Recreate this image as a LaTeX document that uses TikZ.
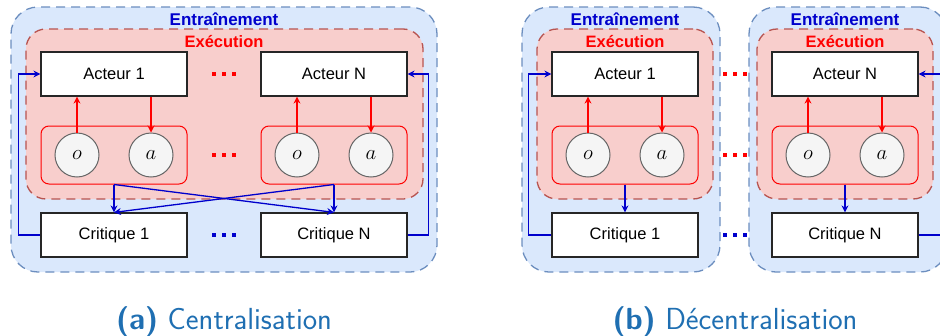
\documentclass[tikz,border=0pt]{standalone}
\usepackage{fontspec}
\setmainfont{Liberation Sans}
\usetikzlibrary{arrows.meta}
\definecolor{trainfill}{HTML}{DAE8FC}
\definecolor{trainline}{HTML}{6C8EBF}
\definecolor{execfill}{HTML}{F8CECC}
\definecolor{execline}{HTML}{B85450}
\definecolor{bluearr}{HTML}{0000CC}
\definecolor{redarr}{HTML}{FF0000}
\definecolor{circfill}{HTML}{F5F5F5}
\definecolor{circline}{HTML}{666666}
\definecolor{capblue}{RGB}{31,111,178}
\begin{document}
\begin{tikzpicture}[x=1pt,y=-1pt,
  trainbox/.style={draw=trainline,fill=trainfill,line width=1.3pt,dash pattern=on 9pt off 6pt,rounded corners=27pt,inner sep=0pt},
  execbox/.style={draw=execline,fill=execfill,line width=1.3pt,dash pattern=on 9pt off 6pt,rounded corners=20pt,inner sep=0pt},
  agent/.style={draw=black!85,fill=white,line width=1.2pt,minimum width=146pt,minimum height=44pt,inner sep=0pt,font=\fontsize{16.5}{18}\selectfont},
  obsbox/.style={draw=redarr,line width=1pt,rounded corners=8pt,minimum width=146pt,minimum height=58pt,inner sep=0pt},
  var/.style={circle,draw=circline,fill=circfill,line width=1pt,minimum size=44pt,inner sep=0pt,font=\fontsize{21}{23}\selectfont},
  redarrow/.style={draw=redarr,line width=1.3pt,-{Stealth[length=7pt,width=7pt]}},
  bluearrow/.style={draw=bluearr,line width=1.3pt,-{Stealth[length=7pt,width=7pt]}},
  reddots/.style={draw=redarr,line width=4pt,dash pattern=on 4pt off 6pt},
  bluedots/.style={draw=bluearr,line width=4pt,dash pattern=on 4pt off 6pt},
  titletrain/.style={text=bluearr,font=\bfseries\fontsize{17}{19}\selectfont,inner sep=0pt},
  titleexec/.style={text=redarr,font=\bfseries\fontsize{16.5}{18}\selectfont,inner sep=0pt},
  capt/.style={text=capblue,font=\sffamily\fontsize{30.5}{33}\selectfont,inner sep=0pt,anchor=base}
]
\clip (0,0) rectangle (940,335);

% ---------------- (a) Centralisation ----------------
\node[trainbox,minimum width=426pt,minimum height=265pt] (trainA) at (224,139.5) {};
\node[execbox,minimum width=397pt,minimum height=170pt] (execA) at (224.5,114) {};
\node[titletrain] (trainAlbl) at (224,19) {Entraînement};
\node[titleexec] (execAlbl) at (224,42) {Exécution};

\node[agent] (act1a) at (114,74) {Acteur 1};
\node[agent] (actNa) at (334,74) {Acteur N};
\node[obsbox] (obs1a) at (114,155) {};
\node[obsbox] (obsNa) at (334,155) {};
\node[var] (o1a) at (77,155) {$o$};
\node[var] (a1a) at (151,155) {$a$};
\node[var] (oNa) at (297,155) {$o$};
\node[var] (aNa) at (371,155) {$a$};
\node[agent] (crit1a) at (114,235) {Critique 1};
\node[agent] (critNa) at (334,235) {Critique N};

\draw[redarrow] (o1a.north) -- (o1a.north |- act1a.south);
\draw[redarrow] (act1a.south -| a1a.north) -- (a1a.north);
\draw[redarrow] (oNa.north) -- (oNa.north |- actNa.south);
\draw[redarrow] (actNa.south -| aNa.north) -- (aNa.north);

\draw[bluearrow] (obs1a.south) -- (crit1a.north);
\draw[bluearrow] (obs1a.south) -- (critNa.north);
\draw[bluearrow] (obsNa.south) -- (crit1a.north);
\draw[bluearrow] (obsNa.south) -- (critNa.north);

\draw[bluearrow] (crit1a.west) -- ++(-22,0) |- (act1a.west);
\draw[bluearrow] (critNa.east) -- ++(21,0) |- (actNa.east);

\draw[reddots] (212,74) -- (236,74);
\draw[reddots] (212,155) -- (236,155);
\draw[bluedots] (212,235) -- (236,235);

% ---------------- (b) Decentralisation ----------------
\node[trainbox,minimum width=198pt,minimum height=265pt] (trainB1) at (621,139.5) {};
\node[trainbox,minimum width=198pt,minimum height=265pt] (trainB2) at (848,139.5) {};
\node[execbox,minimum width=176pt,minimum height=170pt] (execB1) at (625,114) {};
\node[execbox,minimum width=176pt,minimum height=170pt] (execB2) at (845,114) {};
\node[titletrain] (trainB1lbl) at (625,19) {Entraînement};
\node[titletrain] (trainB2lbl) at (845,19) {Entraînement};
\node[titleexec] (execB1lbl) at (625,42) {Exécution};
\node[titleexec] (execB2lbl) at (845,42) {Exécution};

\node[agent] (act1b) at (625,74) {Acteur 1};
\node[agent] (actNb) at (845,74) {Acteur N};
\node[obsbox] (obs1b) at (625,155) {};
\node[obsbox] (obsNb) at (845,155) {};
\node[var] (o1b) at (588,155) {$o$};
\node[var] (a1b) at (662,155) {$a$};
\node[var] (oNb) at (808,155) {$o$};
\node[var] (aNb) at (882,155) {$a$};
\node[agent] (crit1b) at (625,235) {Critique 1};
\node[agent] (critNb) at (845,235) {Critique N};

\draw[redarrow] (o1b.north) -- (o1b.north |- act1b.south);
\draw[redarrow] (act1b.south -| a1b.north) -- (a1b.north);
\draw[redarrow] (oNb.north) -- (oNb.north |- actNb.south);
\draw[redarrow] (actNb.south -| aNb.north) -- (aNb.north);

\draw[bluearrow] (obs1b.south) -- (crit1b.north);
\draw[bluearrow] (obsNb.south) -- (critNb.north);

\draw[bluearrow] (crit1b.west) -- ++(-23,0) |- (act1b.west);
\draw[bluearrow] (critNb.east) -- ++(23,0) |- (actNb.east);

\draw[reddots] (723,74) -- (747,74);
\draw[reddots] (723,155) -- (747,155);
\draw[bluedots] (723,235) -- (747,235);

% captions
\node[capt] (capA) at (224,329) {\textbf{(a)} Centralisation};
\node[capt] (capB) at (735,329) {\textbf{(b)} Décentralisation};
\end{tikzpicture}
\end{document}
